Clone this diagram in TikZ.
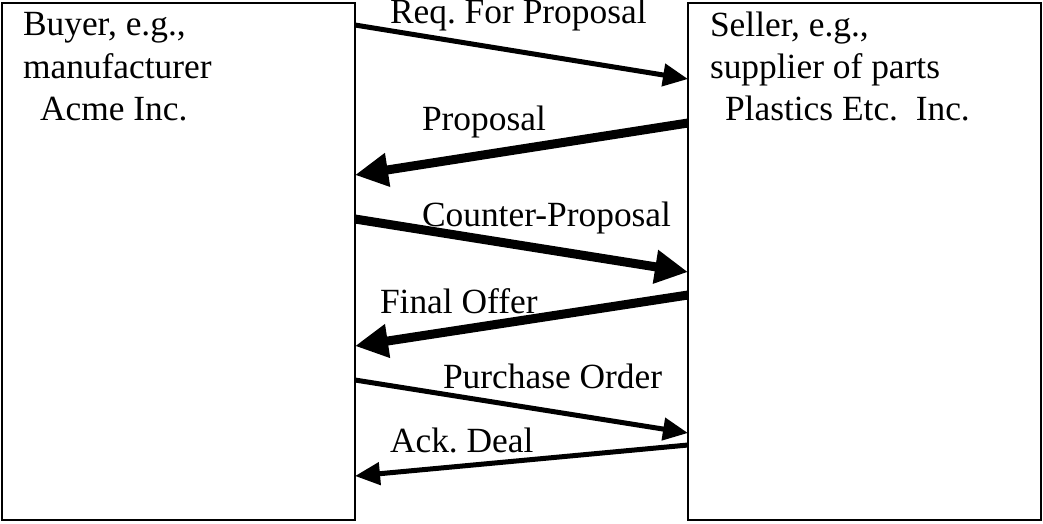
\documentclass[tikz,border=0pt]{standalone}
\usepackage{fontspec}
\setmainfont{Liberation Serif}
\usetikzlibrary{arrows.meta}
\frenchspacing
\begin{document}
\begin{tikzpicture}[x=1pt,y=-1pt,
  party/.style={draw,line width=1.5pt,minimum width=353pt,minimum height=517pt,inner sep=0pt,outer sep=0pt,anchor=north west},
  txt/.style={inner sep=0pt,outer sep=0pt,anchor=base west,font=\fontsize{35.4}{42}\selectfont},
  thinarr/.style={line width=5pt,-{Triangle[length=25pt,width=22pt]}},
  thickarr/.style={line width=9pt,-{Triangle[length=33pt,width=32pt]}}]
\useasboundingbox (0,0) rectangle (1043,523);
\node[party] (buyer) at (2,3) {};
\node[party] (seller) at (688,3) {};
\node[txt] (b1) at (23,35) {Buyer, e.g.,};
\node[txt] (b2) at (23,78) {manufacturer};
\node[txt] (b3) at (40,120) {Acme Inc.};
\node[txt] (s1) at (710,36) {Seller, e.g.,};
\node[txt] (s2) at (710,78) {supplier of parts};
\node[txt] (s3) at (725,120) {Plastics Etc.\ \ Inc.};
\draw[thinarr] ([yshift=-22pt]buyer.north east) -- ([yshift=-76pt]seller.north west);
\draw[thickarr] ([yshift=-120pt]seller.north west) -- ([yshift=-172pt]buyer.north east);
\draw[thickarr] ([yshift=-216pt]buyer.north east) -- ([yshift=-269pt]seller.north west);
\draw[thickarr] ([yshift=-292pt]seller.north west) -- ([yshift=-343pt]buyer.north east);
\draw[thinarr] ([yshift=-377pt]buyer.north east) -- ([yshift=-430pt]seller.north west);
\draw[thinarr] ([yshift=-442pt]seller.north west) -- ([yshift=-473pt]buyer.north east);
\node[txt] (l1) at (390,23) {Req. For Proposal};
\node[txt] (l2) at (422,130) {Proposal};
\node[txt] (l3) at (422,226) {Counter-Proposal};
\node[txt] (l4) at (380,313) {Final Offer};
\node[txt] (l5) at (443,388) {Purchase Order};
\node[txt] (l6) at (390,452) {Ack. Deal};
\end{tikzpicture}
\end{document}
